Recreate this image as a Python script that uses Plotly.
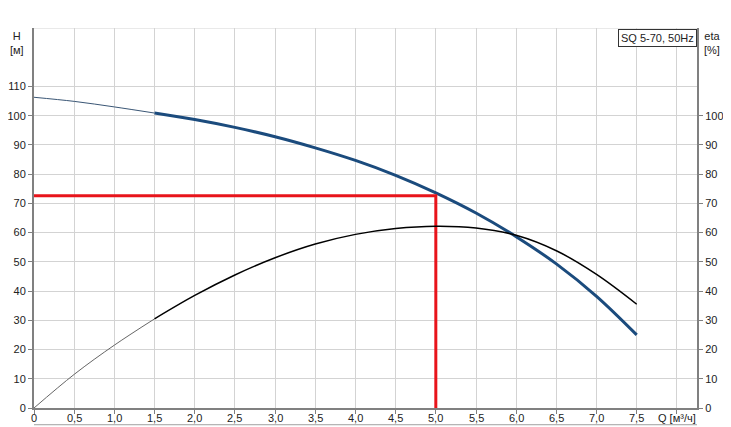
import plotly.graph_objects as go

# Pump curve SQ 5-70, 50Hz -----------------------------------------------------------------
q = [0, 0.5, 1.0, 1.5, 2.0, 2.5, 3.0, 3.5, 4.0, 4.5, 5.0, 5.5, 6.0, 6.5, 7.0, 7.5]
head = [106.3, 104.9, 103.0, 100.9, 98.7, 96.0, 92.8, 89.0, 84.7, 79.6, 73.6, 66.7, 58.6, 49.3, 38.2, 25.0]
eta = [0, 11.5, 21.5, 30.5, 38.5, 45.5, 51.4, 56.1, 59.4, 61.4, 62.2, 61.6, 59.1, 53.8, 45.7, 35.5]

# duty point
duty_q = 5.0
duty_h = 72.6

x_ticks = [0, 0.5, 1.0, 1.5, 2.0, 2.5, 3.0, 3.5, 4.0, 4.5, 5.0, 5.5, 6.0, 6.5, 7.0, 7.5, 8.0]
x_labels = ['0', '0,5', '1,0', '1,5', '2,0', '2,5', '3,0', '3,5', '4,0', '4,5', '5,0',
            '5,5', '6,0', '6,5', '7,0', '7,5', 'Q [м³/ч]']
h_ticks = [0, 10, 20, 30, 40, 50, 60, 70, 80, 90, 100, 110]
eta_ticks = [0, 10, 20, 30, 40, 50, 60, 70, 80, 90, 100]

split = 3  # index of Q=1.5, where the curves turn from thin to thick

font = dict(family='Liberation Sans, Arial', size=11, color='#222222')

fig = go.Figure()

# thin part of the curves (outside the recommended range)
fig.add_trace(go.Scatter(x=q[:split + 1], y=eta[:split + 1], mode='lines',
                         line=dict(color='#666666', width=1, shape='spline'),
                         yaxis='y2', hoverinfo='skip'))
fig.add_trace(go.Scatter(x=q[:split + 1], y=head[:split + 1], mode='lines',
                         line=dict(color='#3a5675', width=1, shape='spline'), hoverinfo='skip'))

# thick part
fig.add_trace(go.Scatter(x=q[split:], y=eta[split:], mode='lines',
                         line=dict(color='#000000', width=1.5, shape='spline'), yaxis='y2'))
fig.add_trace(go.Scatter(x=q[split:], y=head[split:], mode='lines',
                         line=dict(color='#1b4b7d', width=3, shape='spline')))

# duty point lines
fig.add_trace(go.Scatter(x=[0, duty_q, duty_q], y=[duty_h, duty_h, 0], mode='lines',
                         line=dict(color='#e8141b', width=3)))

# the page body adds 8px on the top and left, so the figure is made 8px smaller
fig.update_layout(
    width=723, height=419,
    margin=dict(l=26, r=34, t=20, b=19),
    paper_bgcolor='white', plot_bgcolor='white',
    showlegend=False,
    font=font,
    xaxis=dict(range=[0, 8.25], tickvals=x_ticks, showticklabels=False, automargin=False,
               showgrid=True, gridcolor='#d3d3d3', gridwidth=1,
               showline=True, linecolor='#808080', linewidth=2,
               ticks='outside', ticklen=4, tickcolor='#808080',
               zeroline=False),
    yaxis=dict(range=[0, 130], tickvals=h_ticks, automargin=False,
               showgrid=True, gridcolor='#d3d3d3', gridwidth=1,
               showline=True, linecolor='#808080', linewidth=2,
               ticks='outside', ticklen=4, tickcolor='#808080',
               zeroline=False, tickfont=font),
    yaxis2=dict(range=[0, 130], tickvals=eta_ticks, overlaying='y', side='right',
                automargin=False,
                showgrid=False, showline=True, linecolor='#808080', linewidth=2,
                ticks='outside', ticklen=4, tickcolor='#808080',
                zeroline=False, tickfont=font),
)

# x tick labels sit closer to the axis than plotly puts them
for xv, lab in zip(x_ticks, x_labels):
    fig.add_annotation(text=lab, x=xv, xref='x', y=-0.027, yref='paper',
                       xanchor='center', yanchor='middle', showarrow=False, font=font)

# top gridline (130) for the 10-unit grid
fig.add_shape(type='line', xref='paper', yref='y', x0=0, x1=1, y0=130, y1=130,
              line=dict(color='#d3d3d3', width=1))
# separator under the x tick labels
fig.add_shape(type='line', xref='paper', yref='paper', x0=0, x1=1, y0=-0.044, y1=-0.044,
              line=dict(color='#a0a0a0', width=1))

fig.add_annotation(text='H<br>[м]', xref='paper', yref='paper', x=-0.039, y=1.0,
                   xanchor='left', yanchor='top', showarrow=False, align='center', font=font)
fig.add_annotation(text='eta<br>[%]', xref='paper', yref='paper', x=1.037, y=1.0,
                   xanchor='right', yanchor='top', showarrow=False, align='center', font=font)
fig.add_annotation(text='SQ 5-70, 50Hz', xref='paper', yref='paper', x=1.0, y=0.997,
                   xanchor='right', yanchor='top', showarrow=False, font=font,
                   bgcolor='white', bordercolor='#333333', borderwidth=1, borderpad=2)

fig.write_html("out.html")
